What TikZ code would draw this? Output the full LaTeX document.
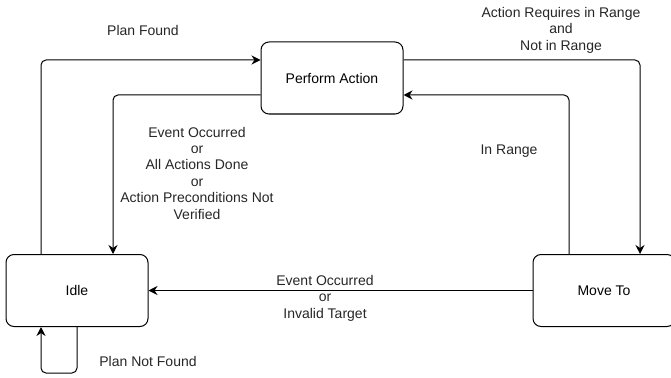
\documentclass[tikz,border=0pt]{standalone}
\usepackage{fontspec}
\setmainfont{Liberation Sans}
\usetikzlibrary{arrows.meta}

\begin{document}
\begin{tikzpicture}[x=1pt, y=-1pt,
    state/.style={draw, line width=1pt, rounded corners=8pt, minimum width=142pt, minimum height=72pt, font=\fontsize{14}{16}\selectfont},
    trans/.style={draw, line width=1pt, rounded corners=5pt, -{Stealth[length=9pt, width=9pt, inset=3pt]}},
    lbl/.style={align=center, font=\fontsize{14}{16.4}\selectfont, text=black!85}]
    \useasboundingbox (0,0) rectangle (671,377);

    \node [state] (perform) at (332, 78) {Perform Action};
    \node [state] (idle) at (77, 290.5) {Idle};
    \node [state] (moveto) at (604, 290.5) {Move To};

    % idle <-> perform action
    \draw [trans] (idle.north -| 41,0) |- (perform.west |- 0,60);
    \node [lbl] (planfound) at (143, 30) {Plan Found};
    \draw [trans] (perform.west |- 0,95) -| (idle.north -| 113,0);
    \node [lbl] (donelbl) at (197, 173) {Event Occurred\\or\\All Actions Done\\or\\Action Preconditions Not\\Verified};

    % perform action <-> move to
    \draw [trans] (perform.east |- 0,60) -| (moveto.north -| 640,0);
    \node [lbl] (reqlbl) at (561, 30) {Action Requires in Range\\and\\Not in Range};
    \draw [trans] (moveto.north -| 569,0) |- (perform.east |- 0,95);
    \node [lbl] (inrange) at (509, 151) {In Range};

    % move to -> idle
    \draw [trans] (moveto.west) -- (idle.east);
    \node [lbl] (invalidlbl) at (325, 298) {Event Occurred\\or\\Invalid Target};

    % self loop
    \coordinate (loopa) at (77, 373);
    \coordinate (loopb) at (41, 373);
    \draw [trans] (idle.south -| 77,0) -- (loopa) -- (loopb) -- (idle.south -| 41,0);
    \node [lbl] (planmiss) at (148, 361) {Plan Not Found};
\end{tikzpicture}
\end{document}
